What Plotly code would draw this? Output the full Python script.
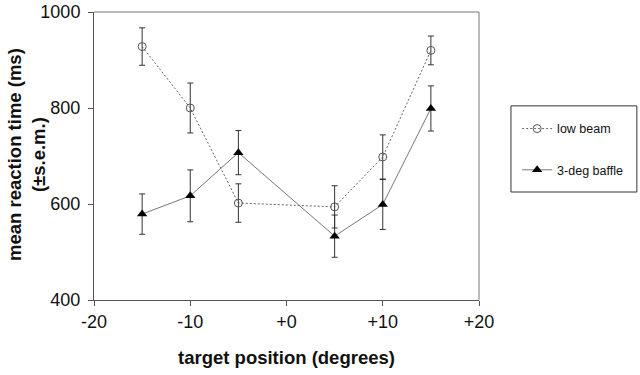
import plotly.graph_objects as go

positions = [-15, -10, -5, 5, 10, 15]
low_beam = [928, 800, 602, 594, 698, 920]
low_beam_err = [39, 52, 40, 44, 46, 30]
baffle = [579, 617, 707, 533, 599, 799]
baffle_err = [42, 54, 46, 44, 52, 47]
xtick_vals = [-20, -10, 0, 10, 20]
xtick_text = ["-20", "-10", "+0", "+10", "+20"]
ytick_vals = [400, 600, 800, 1000]

fig = go.Figure()
fig.add_trace(go.Scatter(
    x=positions, y=low_beam, name="low beam", mode="lines+markers",
    line=dict(color="#666666", width=1, dash="2px,2px"),
    marker=dict(symbol="circle-open", size=8, color="#555555", line=dict(width=1)),
    error_y=dict(type="data", array=low_beam_err, color="#333333", thickness=1, width=3),
    legendgroup="a",
))
fig.add_trace(go.Scatter(
    x=positions, y=baffle, name="3-deg baffle", mode="lines+markers",
    line=dict(color="#777777", width=1),
    marker=dict(symbol="triangle-up", size=9, color="#000000"),
    error_y=dict(type="data", array=baffle_err, color="#333333", thickness=1, width=3),
    legendgroup="b",
))

fig.update_layout(
    width=640, height=375,
    margin=dict(l=94, r=161, t=12, b=75),
    paper_bgcolor="white", plot_bgcolor="white",
    font=dict(family="Liberation Sans, Arial, sans-serif", color="#111111"),
    showlegend=True,
    legend=dict(
        x=1.099, y=0.646, xanchor="left", yanchor="top",
        borderwidth=0, bgcolor="rgba(0,0,0,0)",
        font=dict(size=12.5), tracegroupgap=22,
    ),
    xaxis=dict(
        range=[-20, 20], tickvals=xtick_vals, ticktext=xtick_text,
        showgrid=False, zeroline=False, showline=True, linecolor="#555555",
        ticks="outside", ticklen=5, tickcolor="#555555", tickfont=dict(size=18),
        automargin=False,
        title=dict(text="<b>target position (degrees)</b>", font=dict(size=18.5), standoff=20),
    ),
    yaxis=dict(
        range=[400, 1000], tickvals=ytick_vals,
        showgrid=False, zeroline=False, showline=True, linecolor="#555555",
        ticks="outside", ticklen=5, tickcolor="#555555", tickfont=dict(size=18),
        ticklabelstandoff=4, ticklabeloverflow="allow",
        automargin=False,
    ),
)
# y-axis title as rotated annotation
fig.add_annotation(
    text="<b>mean reaction time (ms)<br>(±s.e.m.)</b>", textangle=-90,
    xref="paper", yref="paper", x=(26 - 94) / 385, y=(300 - 155) / 288,
    xanchor="center", yanchor="middle", showarrow=False,
    font=dict(size=18.5, color="#111111"),
)
# top and right frame
fig.add_shape(type="line", xref="paper", yref="paper", x0=0, x1=1, y0=1, y1=1,
              line=dict(color="#777777", width=1))
fig.add_shape(type="line", xref="paper", yref="paper", x0=1, x1=1, y0=0, y1=1,
              line=dict(color="#777777", width=1))
# legend frame
fig.add_shape(type="rect", xref="paper", yref="paper", x0=1.083, x1=1.410, y0=0.375, y1=0.674,
              line=dict(color="#333333", width=1))

fig.write_html("out.html", config={"displayModeBar": False},
               post_script="document.body.style.margin='0';")
